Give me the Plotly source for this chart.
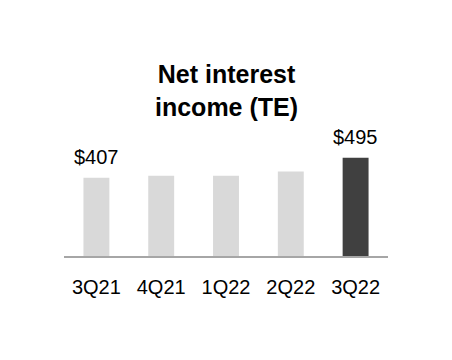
import plotly.graph_objects as go

quarters = ["3Q21", "4Q21", "1Q22", "2Q22", "3Q22"]
nii_values = [407, 416, 416, 434, 495]
value_labels = ["$407", "", "", "", "$495"]
bar_colors = ["#d9d9d9", "#d9d9d9", "#d9d9d9", "#d9d9d9", "#404040"]

W, H = 452, 360
M_L, M_R, M_T, M_B = 64, 64, 20, 104
plot_h = H - M_T - M_B
y0 = 62.5
per_px = 4.4
y1 = y0 + plot_h * per_px

fig = go.Figure()
fig.add_trace(go.Bar(
    x=quarters, y=nii_values,
    marker=dict(color=bar_colors, line=dict(width=0)),
    hoverinfo="skip",
))

for q, v, lab in zip(quarters, nii_values, value_labels):
    if lab:
        fig.add_annotation(x=q, y=v, xref="x", yref="y", text=lab,
                           showarrow=False, yanchor="bottom", yshift=8,
                           font=dict(family="Liberation Sans, Arial, sans-serif",
                                     size=20, color="#000000"))

fig.add_annotation(x=0.5, xref="paper", y=(H - M_B - 90) / plot_h, yref="paper",
                   text="<b>Net interest<br>income (TE)</b>", showarrow=False,
                   xanchor="center", yanchor="middle",
                   font=dict(family="Liberation Sans, Arial, sans-serif",
                             size=25, color="#000000"))

fig.update_layout(
    width=W, height=H,
    margin=dict(l=M_L, r=M_R, t=M_T, b=M_B, pad=0),
    paper_bgcolor="white", plot_bgcolor="white",
    bargap=0.6, showlegend=False,
    font=dict(family="Liberation Sans, Arial, sans-serif", size=20, color="#000000"),
    xaxis=dict(showline=True, linecolor="#a6a6a6", linewidth=2, ticks="",
               showgrid=False, zeroline=False, ticklabelstandoff=12,
               tickfont=dict(size=20, color="#000000")),
    yaxis=dict(range=[y0, y1], visible=False, showgrid=False, zeroline=False),
)

fig.write_html("out.html")
